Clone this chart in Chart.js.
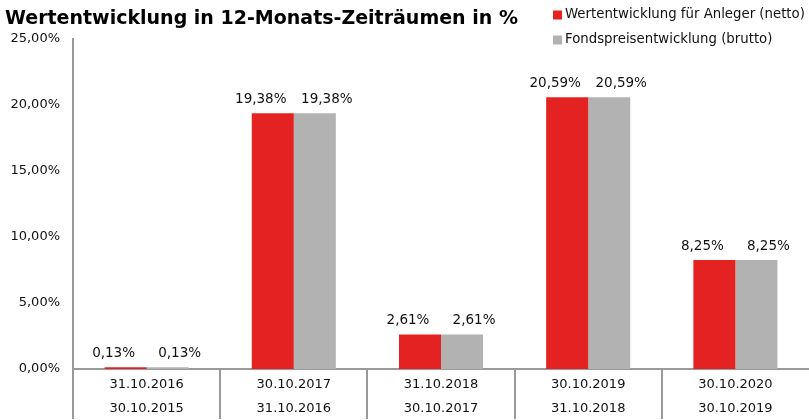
<!DOCTYPE html>
<html>
<head>
<meta charset="utf-8">
<script src="https://cdn.jsdelivr.net/npm/chart.js@4/dist/chart.umd.min.js"></script>
<style>
html,body{margin:0;padding:0;background:#fff;}
#wrap{position:relative;width:809px;height:420px;}
</style>
</head>
<body>
<div id="wrap"><canvas id="c" width="809" height="420"></canvas></div>
<script>
const titleText = 'Wertentwicklung in 12-Monats-Zeiträumen in %';
const periodEnd = ['31.10.2016', '30.10.2017', '31.10.2018', '30.10.2019', '30.10.2020'];
const periodStart = ['30.10.2015', '31.10.2016', '30.10.2017', '31.10.2018', '30.10.2019'];
const seriesNames = ['Wertentwicklung für Anleger (netto)', 'Fondspreisentwicklung (brutto)'];
const netto = [0.13, 19.38, 2.61, 20.59, 8.25];
const brutto = [0.13, 19.38, 2.61, 20.59, 8.25];
const yTicks = [0, 5, 10, 15, 20, 25];

const FONT = '"DejaVu Sans", Verdana, sans-serif';
const RED = '#e52222';
const GREY = '#b2b2b2';
const AXIS = '#9a9a9a';

function fmt(v){ return v.toFixed(2).replace('.', ',') + '%'; }

const labels = periodEnd.map((e, i) => [e, periodStart[i]]);

const decor = {
  id: 'decor',
  afterDraw(chart){
    const ctx = chart.ctx;
    const xs = chart.scales.x;
    ctx.save();
    // title
    ctx.fillStyle = '#000';
    ctx.font = 'bold 19px ' + FONT;
    ctx.textAlign = 'left';
    ctx.textBaseline = 'alphabetic';
    ctx.fillText(titleText, 5, 24);
    // legend
    ctx.font = '13.3px ' + FONT;
    ctx.textBaseline = 'middle';
    chart.data.datasets.forEach((ds, i) => {
      const y = 15 + i * 25;
      ctx.fillStyle = ds.backgroundColor;
      ctx.fillRect(553, y - 4.5, 9, 9);
      ctx.fillStyle = '#111';
      ctx.fillText(ds.label, 565, y);
    });
    // value labels
    ctx.font = '13.5px ' + FONT;
    ctx.textAlign = 'center';
    ctx.textBaseline = 'middle';
    ctx.fillStyle = '#111';
    chart.data.datasets.forEach((ds, i) => {
      const meta = chart.getDatasetMeta(i);
      meta.data.forEach((bar, j) => {
        const c = xs.getPixelForValue(j);
        const dir = bar.x < c ? -1 : 1;
        ctx.fillText(fmt(ds.data[j]), bar.x + dir * 12, bar.y - 14);
      });
    });
    ctx.restore();
  }
};

new Chart(document.getElementById('c'), {
  type: 'bar',
  data: {
    labels: labels,
    datasets: [
      { label: seriesNames[0], data: netto, backgroundColor: RED, categoryPercentage: 0.571, barPercentage: 1 },
      { label: seriesNames[1], data: brutto, backgroundColor: GREY, categoryPercentage: 0.571, barPercentage: 1 }
    ]
  },
  options: {
    responsive: false,
    animation: false,
    events: [],
    layout: { padding: { top: 39, left: 0, right: 0, bottom: 0 } },
    plugins: { legend: { display: false }, title: { display: false }, tooltip: { enabled: false } },
    scales: {
      x: {
        offset: true,
        afterFit(scale){ scale.height = 51; },
        grid: {
          display: true, drawOnChartArea: false, drawTicks: true, tickLength: 50,
          color: (c) => c.type === 'tick' ? AXIS : 'rgba(0,0,0,0)',
          lineWidth: 2, offset: true
        },
        border: { display: true, color: AXIS, width: 2 },
        ticks: { color: '#111', font: { family: FONT, size: 13, lineHeight: 1.85 }, padding: -46, maxRotation: 0, minRotation: 0, autoSkip: false }
      },
      y: {
        min: yTicks[0], max: yTicks[yTicks.length - 1],
        afterBuildTicks(scale){ scale.ticks = yTicks.map(v => ({ value: v })); },
        afterFit(scale){ scale.width = 73; },
        grid: { display: false, drawTicks: false },
        border: { display: true, color: AXIS, width: 2 },
        ticks: { color: '#111', font: { family: FONT, size: 13 }, padding: 13, callback: (v) => fmt(v) }
      }
    }
  },
  plugins: [decor]
});
</script>
</body>
</html>
